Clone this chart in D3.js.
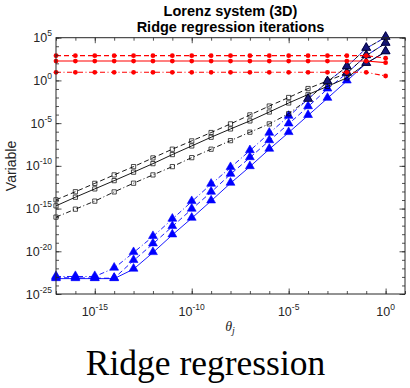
<!DOCTYPE html>
<html>
<head>
<meta charset="utf-8">
<script src="https://cdn.jsdelivr.net/npm/d3@7"></script>
<style>
  body { margin: 0; background: #fff; }
  svg { display: block; }
</style>
</head>
<body>
<svg id="chart" width="410" height="388"></svg>
<script>
// theta_j values, one per decade
const theta = [1e-17, 1e-16, 1e-15, 1e-14, 1e-13, 1e-12, 1e-11, 1e-10, 1e-9,
               1e-8, 1e-7, 1e-6, 1e-5, 1e-4, 1e-3, 1e-2, 1e-1, 1e0];

// red series (star markers)
const redDashed  = [790, 790, 790, 790, 790, 790, 790, 790, 790, 790, 790, 790, 790, 790, 790, 790, 790, 400];
const redSolid   = [185, 185, 185, 185, 185, 185, 185, 185, 185, 185, 185, 185, 185, 185, 185, 185, 185, 120];
const redDashDot = [8.9, 8.9, 8.9, 8.9, 8.9, 8.9, 8.9, 8.9, 8.9, 8.9, 8.9, 8.9, 8.9, 8.9, 8.9, 8.9, 8.9, 3.3];

// black series (square markers)
const blackDashed  = [1.05e-14, 9.33e-14, 8.91e-13, 8.71e-12, 8.13e-11, 8.51e-10, 8.91e-9, 8.32e-8, 7.94e-7,
                      8.13e-6, 9.12e-5, 1e-3, 1e-2, 0.112, 0.871, 6.92, 794, 22400];
const blackSolid   = [2.09e-15, 2.14e-14, 2.0e-13, 1.86e-12, 1.82e-11, 1.82e-10, 2.09e-9, 2.14e-8, 2.24e-7,
                      2.09e-6, 1.82e-5, 2.0e-4, 2.29e-3, 2.24e-2, 0.2, 2.0, 100, 2290];
const blackDashDot = [1e-16, 8.51e-16, 7.41e-15, 8.91e-14, 9.33e-13, 8.71e-12, 8.13e-11, 9.12e-10, 8.91e-9,
                      8.91e-8, 8.71e-7, 8.13e-6, 1.26e-4, 6.31e-3, 0.708, 39.8, 5750, 112000];

// blue series (triangle markers)
const blueSolid   = [6.31e-24, 6.31e-24, 6.31e-24, 6.31e-24, 8.13e-23, 7.08e-21, 8.32e-19, 7.41e-17, 7.94e-15,
                     9.33e-13, 8.13e-11, 8.91e-9, 7.94e-7, 7.94e-5, 8.13e-3, 0.871, 100, 2290];
const blueDashed  = [7.94e-24, 7.94e-24, 7.08e-24, 7.08e-24, 8.32e-22, 7.41e-20, 7.94e-18, 8.51e-16, 8.32e-14,
                     1.05e-11, 9.12e-10, 8.91e-8, 8.13e-6, 8.51e-4, 0.1, 6.92, 794, 22400];
const blueDashDot = [1.12e-23, 1.12e-23, 1.12e-23, 1.07e-22, 7.08e-21, 5.37e-19, 5.75e-17, 6.61e-15, 7.08e-13,
                     6.31e-11, 6.03e-9, 6.61e-7, 6.31e-5, 6.31e-3, 0.708, 39.8, 5750, 112000];

const xMajor = [-15, -10, -5, 0];
const yMajor = [5, 0, -5, -10, -15, -20, -25];

const svg = d3.select("#chart");
const mLeft = 56, mRight = 405, mTop = 37.7, mBottom = 294;
const axisColor = "#262626";

const x = d3.scaleLog().domain([1e-17, 1e1]).range([mLeft, mRight]);
const y = d3.scaleLog().domain([1e-25, 1e5]).range([mBottom, mTop]);

const dashes = { solid: null, dashed: "5,3", dashdot: "5,2.5,1,2.5" };

// titles
svg.append("text")
  .attr("x", 230.5).attr("y", 16)
  .attr("text-anchor", "middle")
  .style("font", "bold 14.5px 'Liberation Sans', Arial, sans-serif")
  .text("Lorenz system (3D)");
svg.append("text")
  .attr("x", 230.5).attr("y", 31.5)
  .attr("text-anchor", "middle")
  .style("font", "bold 14.5px 'Liberation Sans', Arial, sans-serif")
  .text("Ridge regression iterations");

// series
const line = d3.line().x((d, i) => x(theta[i])).y(d => y(d));

function drawLine(data, color, style, width) {
  svg.append("path")
    .attr("d", line(data))
    .attr("fill", "none")
    .attr("stroke", color)
    .attr("stroke-width", width)
    .attr("stroke-dasharray", dashes[style]);
}

const tri = d3.symbol().type(d3.symbolTriangle).size(34);
const sq = d3.symbol().type(d3.symbolSquare).size(18);

const blues = [[blueSolid, "solid"], [blueDashed, "dashed"], [blueDashDot, "dashdot"]];
blues.forEach(([data, style]) => drawLine(data, "#0000ff", style, 0.9));
blues.forEach(([data]) => {
  svg.append("g").selectAll("path").data(data).join("path")
    .attr("d", tri)
    .attr("transform", (d, i) => `translate(${x(theta[i])},${y(d) - 0.5})`)
    .attr("fill", "#0000ff")
    .attr("stroke", "#0000ff")
    .attr("stroke-width", 0.6);
});

const blacks = [[blackSolid, "solid", blueSolid], [blackDashed, "dashed", blueDashed], [blackDashDot, "dashdot", blueDashDot]];
blacks.forEach(([data, style]) => drawLine(data, "#000", style, 0.9));
blacks.forEach(([data, style, blue]) => {
  // where a black series meets its blue partner the markers overlap into a dark triangle
  const same = (d, i) => Math.abs(Math.log10(d) - Math.log10(blue[i])) < 0.05;
  const g = svg.append("g");
  g.selectAll("path").data(data).join("path")
    .attr("d", (d, i) => same(d, i) ? tri() : sq())
    .attr("transform", (d, i) => `translate(${x(theta[i])},${y(d) - (same(d, i) ? 0.5 : 0)})`)
    .attr("fill", (d, i) => same(d, i) ? "#14147a" : "none")
    .attr("stroke", "#000")
    .attr("stroke-width", 0.7);
});

const reds = [[redSolid, "solid"], [redDashed, "dashed"], [redDashDot, "dashdot"]];
reds.forEach(([data, style]) => drawLine(data, "#ff0000", style, 1.1));
reds.forEach(([data]) => {
  svg.append("g").selectAll("circle").data(data).join("circle")
    .attr("cx", (d, i) => x(theta[i]))
    .attr("cy", d => y(d))
    .attr("r", 2.4)
    .attr("fill", "#ff0000");
});

// axes box with inward ticks on all sides
const xMinor = d3.range(-17, 2).map(e => Math.pow(10, e));
const yMinor = d3.range(-25, 6).map(e => Math.pow(10, e));
const xMaj = xMajor.map(e => Math.pow(10, e));
const yMaj = yMajor.map(e => Math.pow(10, e));

function ticks(axisFn, scale, vals, size, transform) {
  const g = svg.append("g")
    .attr("transform", transform)
    .call(axisFn(scale).tickValues(vals).tickSize(-size).tickFormat(""));
  g.select(".domain").remove();
  g.selectAll("line").attr("stroke", axisColor).attr("stroke-width", 0.8);
}
ticks(d3.axisBottom, x, xMinor, 3, `translate(0,${mBottom})`);
ticks(d3.axisBottom, x, xMaj, 5.5, `translate(0,${mBottom})`);
ticks(d3.axisTop, x, xMinor, 3, `translate(0,${mTop})`);
ticks(d3.axisTop, x, xMaj, 5.5, `translate(0,${mTop})`);
ticks(d3.axisLeft, y, yMinor, 3, `translate(${mLeft},0)`);
ticks(d3.axisLeft, y, yMaj, 5.5, `translate(${mLeft},0)`);
ticks(d3.axisRight, y, yMinor, 3, `translate(${mRight},0)`);
ticks(d3.axisRight, y, yMaj, 5.5, `translate(${mRight},0)`);

svg.append("rect")
  .attr("x", mLeft).attr("y", mTop)
  .attr("width", mRight - mLeft).attr("height", mBottom - mTop)
  .attr("fill", "none")
  .attr("stroke", axisColor)
  .attr("stroke-width", 1);

// tick labels
const labelFont = "'Liberation Sans', Arial, sans-serif";
yMajor.forEach(e => {
  const t = svg.append("text")
    .attr("x", 52).attr("y", y(Math.pow(10, e)) + 4.5)
    .attr("text-anchor", "end")
    .attr("fill", axisColor)
    .style("font-family", labelFont);
  t.append("tspan").style("font-size", "12.5px").text("10");
  t.append("tspan").attr("dy", -6).style("font-size", "8.5px").text(String(e));
});
xMajor.forEach(e => {
  const t = svg.append("text")
    .attr("x", x(Math.pow(10, e))).attr("y", 316)
    .attr("text-anchor", "middle")
    .attr("fill", axisColor)
    .style("font-family", labelFont);
  t.append("tspan").style("font-size", "12.5px").text("10");
  t.append("tspan").attr("dy", -6).style("font-size", "8.5px").text(String(e));
});

// axis labels
svg.append("text")
  .attr("transform", "translate(16,166) rotate(-90)")
  .attr("text-anchor", "middle")
  .attr("fill", axisColor)
  .style("font", "14px 'Liberation Sans', Arial, sans-serif")
  .text("Variable");

const xl = svg.append("text")
  .attr("x", 230).attr("y", 331)
  .attr("text-anchor", "middle")
  .attr("fill", axisColor)
  .style("font-family", "'Liberation Serif', 'DejaVu Serif', serif")
  .style("font-style", "italic");
xl.append("tspan").style("font-size", "14px").text("θ");
xl.append("tspan").attr("dy", 3).style("font-size", "10px").text("j");

// caption
svg.append("text")
  .attr("x", 205.5).attr("y", 375)
  .attr("text-anchor", "middle")
  .attr("fill", "#000")
  .style("font", "35.5px 'Liberation Serif', 'Times New Roman', serif")
  .text("Ridge regression");
</script>
</body>
</html>
